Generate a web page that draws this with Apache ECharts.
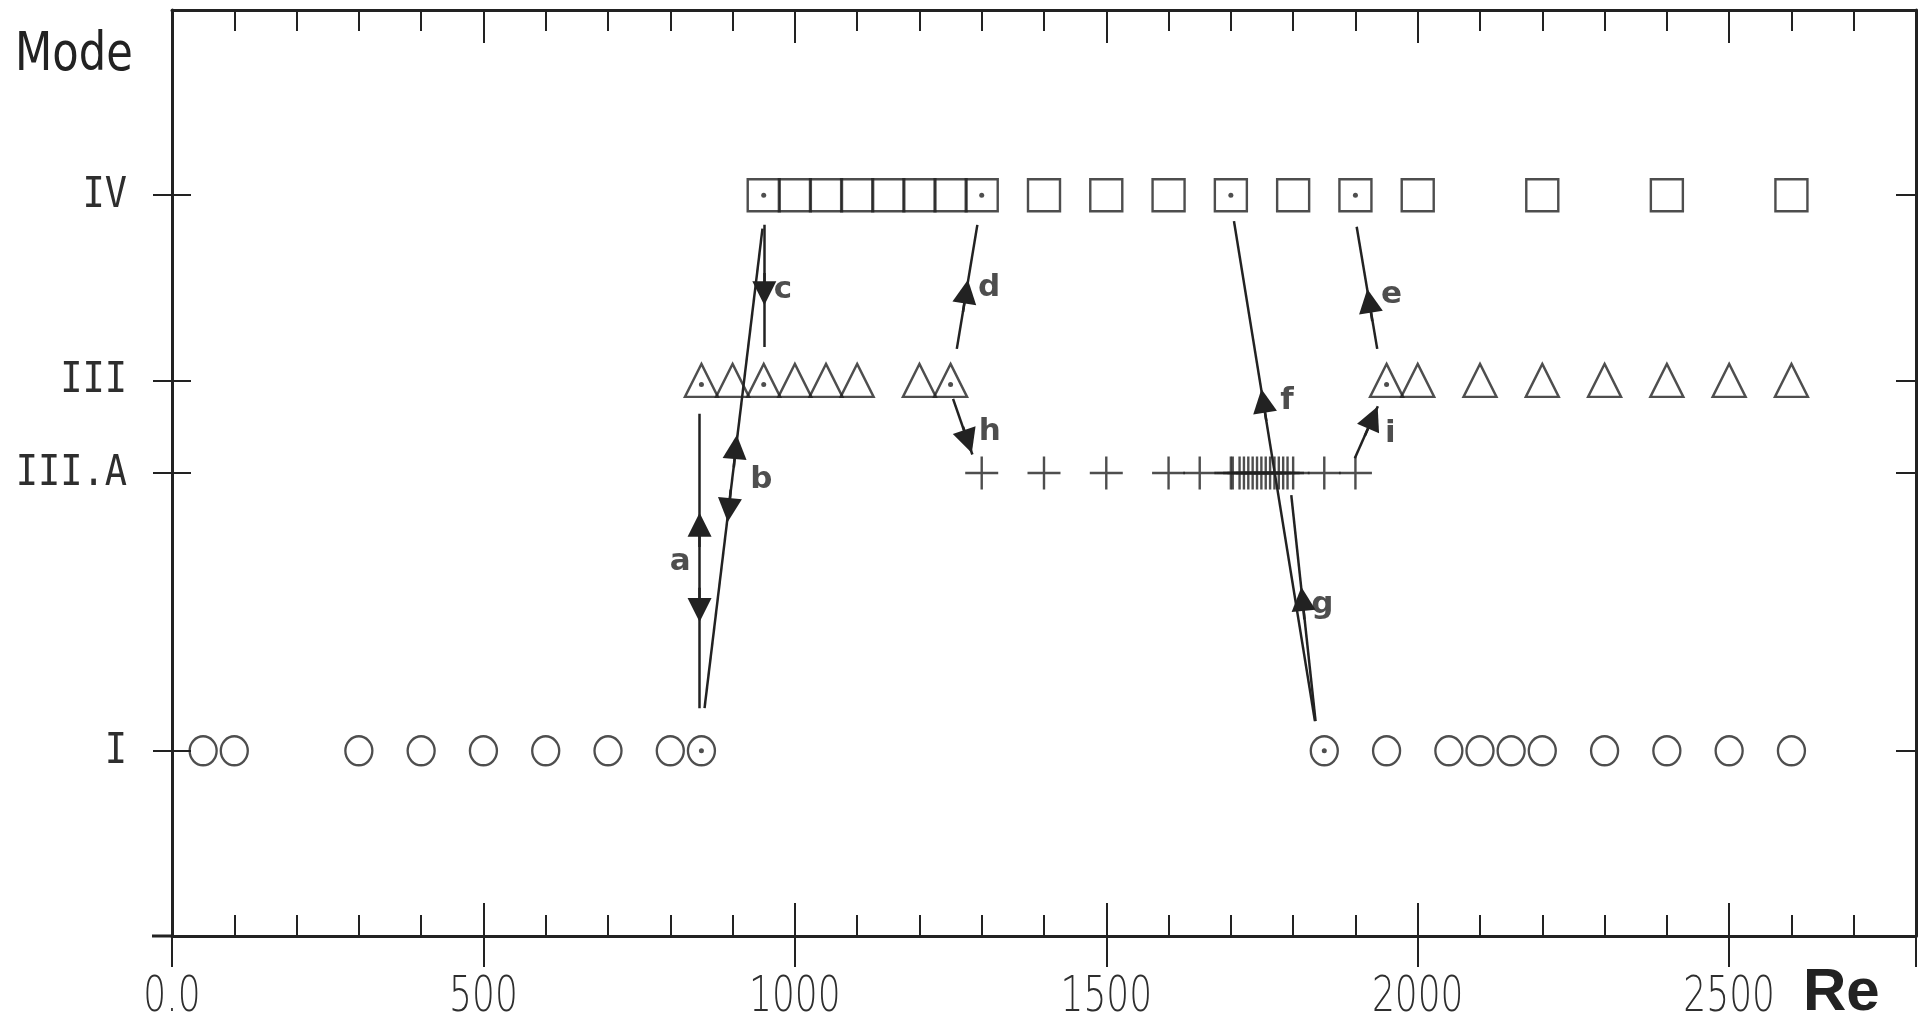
<!DOCTYPE html>
<html>
<head>
<meta charset="utf-8">
<title>Mode vs Re</title>
<script src="https://cdn.jsdelivr.net/npm/echarts@6/dist/echarts.min.js"></script>
<style>
  html, body { margin: 0; padding: 0; background: #fff; }
  #chart { width: 1930px; height: 1023px; }
</style>
</head>
<body>
<div id="chart"></div>
<script>
// mode levels on the y axis
const modeValues = [1, 2.5, 3, 4]
const modeNames = ['I', 'III.A', 'III', 'IV']

// x tick labels
const reTickValues = [0, 500, 1000, 1500, 2000, 2500]
const reTickLabels = ['0.0', '500', '1000', '1500', '2000', '2500']

// Re values per mode
const modeIRe = [50, 100, 300, 400, 500, 600, 700, 800, 850, 1850, 1950, 2050, 2100, 2150, 2200, 2300, 2400, 2500, 2600]
const modeIIIARe = [1300, 1400, 1500, 1600, 1650, 1700, 1703, 1714, 1721, 1728, 1735, 1742, 1749, 1756, 1763, 1770, 1777, 1784, 1791, 1800, 1850, 1900]
const modeIIIRe = [850, 900, 950, 1000, 1050, 1100, 1200, 1250, 1950, 2000, 2100, 2200, 2300, 2400, 2500, 2600]
const modeIVRe = [950, 1000, 1050, 1100, 1150, 1200, 1250, 1300, 1400, 1500, 1600, 1700, 1800, 1900, 2000, 2200, 2400, 2600]

// markers carrying a centre dot
const dotsI = [850, 1850]
const dotsIII = [850, 950, 1250, 1950]
const dotsIV = [950, 1300, 1700, 1900]

// transition paths a..i, [Re, mode] in data units
const arrowNames = ['a', 'b', 'c', 'd', 'e', 'f', 'g', 'h', 'i']
const arrowFrom = [[847, 2.82], [855, 1.23], [951, 3.84], [1260, 3.17], [1935, 3.17], [1835, 1.16], [1836, 1.16], [1254, 2.90], [1899, 2.58]]
const arrowTo = [[847, 1.23], [948, 3.82], [951, 3.18], [1293, 3.84], [1902, 3.83], [1705, 3.86], [1797, 2.38], [1285, 2.60], [1936, 2.86]]
const headTail = [[847, 2.10], [847, 1.88], [902, 2.53], [897, 2.41], [951, 3.58], [1270, 3.37], [1927, 3.32], [1757, 2.78], [1818, 1.71], [1270, 2.75], [1915, 2.70]]
const headTip = [[847, 2.22], [847, 1.76], [905, 2.64], [894, 2.30], [951, 3.47], [1275, 3.48], [1922, 3.43], [1752, 2.89], [1815, 1.82], [1278, 2.67], [1928, 2.80]]
const labelPos = [[816, 2.02], [946, 2.46], [981, 3.49], [1312, 3.50], [1958, 3.46], [1790, 2.89], [1847, 1.79], [1313, 2.72], [1956, 2.71]]

const ink = '#222'
const labelInk = '#2e2e2e'

const chart = echarts.init(document.getElementById('chart'))

const hollow = (sym, size) => ({
  type: 'scatter',
  symbol: sym,
  symbolSize: size,
  silent: true,
  itemStyle: { color: 'rgba(0,0,0,0)', borderColor: ink, borderWidth: 2.4 },
  z: 3
})

const dots = (list, y, dy) => ({
  type: 'scatter',
  symbol: 'circle',
  symbolSize: 5,
  symbolOffset: [0, dy],
  silent: true,
  itemStyle: { color: ink },
  data: list.map(x => [x, y]),
  z: 4
})

const xBase = {
  type: 'value', min: 0, max: 2800, interval: 500,
  splitLine: { show: false }, axisLabel: { show: false }
}
const yBase = {
  type: 'value', min: 0, max: 5,
  splitLine: { show: false }, axisLabel: { show: false }
}
const tickStyle = { color: ink, width: 2 }

chart.setOption({
  backgroundColor: '#fff',
  animation: false,
  grid: { left: 172, right: 14, top: 10, bottom: 87 },
  xAxis: [
    {
      ...xBase, position: 'bottom',
      axisLine: { onZero: false, lineStyle: { color: ink, width: 3 } },
      axisTick: { inside: false, length: 31, lineStyle: tickStyle }
    },
    {
      ...xBase, position: 'bottom', offset: 0,
      axisLine: { show: false, onZero: false },
      axisTick: { inside: true, length: 33, lineStyle: tickStyle },
      minorTick: { show: true, splitNumber: 5, length: 21, lineStyle: tickStyle }
    },
    {
      ...xBase, position: 'top',
      axisLine: { onZero: false, lineStyle: { color: ink, width: 3 } },
      axisTick: { inside: true, length: 33, lineStyle: tickStyle },
      minorTick: { show: true, splitNumber: 5, length: 21, lineStyle: tickStyle }
    }
  ],
  yAxis: [
    {
      ...yBase, position: 'left',
      axisLine: { onZero: false, lineStyle: { color: ink, width: 3 } },
      axisTick: { customValues: modeValues, inside: false, length: 19, lineStyle: tickStyle }
    },
    {
      ...yBase, position: 'left', offset: 0,
      axisLine: { show: false, onZero: false },
      axisTick: { customValues: modeValues, inside: true, length: 19, lineStyle: tickStyle }
    },
    {
      ...yBase, position: 'right',
      axisLine: { onZero: false, lineStyle: { color: ink, width: 3 } },
      axisTick: { customValues: modeValues, inside: true, length: 20, lineStyle: tickStyle }
    }
  ],
  series: [
    { ...hollow('circle', [27, 29]), data: modeIRe.map(x => [x, modeValues[0]]) },
    { ...hollow('path://M0,16H32M16,0V32', [33, 33]), data: modeIIIARe.map(x => [x, modeValues[1]]) },
    { ...hollow('triangle', [33, 33]), data: modeIIIRe.map(x => [x, modeValues[2]]) },
    { ...hollow('rect', [32, 32]), data: modeIVRe.map(x => [x, modeValues[3]]) },
    dots(dotsI, modeValues[0], 0),
    dots(dotsIII, modeValues[2], 4),
    dots(dotsIV, modeValues[3], 0),
    {
      type: 'lines',
      coordinateSystem: 'cartesian2d',
      silent: true,
      lineStyle: { color: ink, width: 2.5, opacity: 1 },
      data: arrowFrom.map((p, i) => ({ coords: [p, arrowTo[i]] })),
      z: 5
    },
    {
      type: 'lines',
      coordinateSystem: 'cartesian2d',
      silent: true,
      symbol: ['none', 'triangle'],
      symbolSize: [8, 24],
      lineStyle: { color: ink, width: 2.5, opacity: 1 },
      itemStyle: { color: ink },
      data: headTail.map((p, i) => ({ coords: [p, headTip[i]] })),
      z: 6
    },
    {
      type: 'scatter',
      symbolSize: 1,
      silent: true,
      itemStyle: { color: 'rgba(0,0,0,0)' },
      label: {
        show: true, position: 'inside', formatter: '{b}',
        color: ink, fontSize: 31, fontWeight: 'bold',
        fontFamily: "'DejaVu Sans', sans-serif"
      },
      data: labelPos.map((p, i) => ({ name: arrowNames[i], value: p })),
      z: 7
    }
  ]
})

// narrow plotter-style labels, placed from the axis scales
const px = v => chart.convertToPixel({ xAxisIndex: 0, yAxisIndex: 0 }, v)
const origin = px([0, 0])
const texts = []

reTickValues.forEach((v, i) => {
  const p = px([v, 0])
  texts.push({
    type: 'text', x: p[0], y: p[1] + 62, scaleX: 0.72, silent: true,
    style: {
      text: reTickLabels[i], fill: labelInk,
      font: "200 50px 'DejaVu Sans', sans-serif",
      align: 'center', verticalAlign: 'middle'
    }
  })
})

modeValues.forEach((v, i) => {
  const p = px([0, v])
  texts.push({
    type: 'text', x: p[0] - 45, y: p[1] + 1, scaleX: 0.88, silent: true,
    style: {
      text: modeNames[i], fill: labelInk,
      font: "42px 'DejaVu Sans Mono', 'Liberation Mono', monospace",
      align: 'right', verticalAlign: 'middle'
    }
  })
})

texts.push(
  {
    type: 'text', x: 15, y: 56, scaleX: 0.8, silent: true,
    style: {
      text: 'Mode', fill: ink,
      font: "54px 'DejaVu Sans', sans-serif",
      align: 'left', verticalAlign: 'middle'
    }
  },
  {
    type: 'text', x: 1803, y: 993, silent: true,
    style: {
      text: 'Re', fill: ink,
      font: "bold 60px 'Liberation Sans', Arial, sans-serif",
      align: 'left', verticalAlign: 'middle'
    }
  },
  {
    // the bottom axis runs a little past the frame on the left
    type: 'line', silent: true,
    shape: { x1: origin[0] - 20, y1: origin[1], x2: origin[0], y2: origin[1] },
    style: { stroke: ink, lineWidth: 3 }
  }
)

chart.setOption({ graphic: texts })
</script>
</body>
</html>
